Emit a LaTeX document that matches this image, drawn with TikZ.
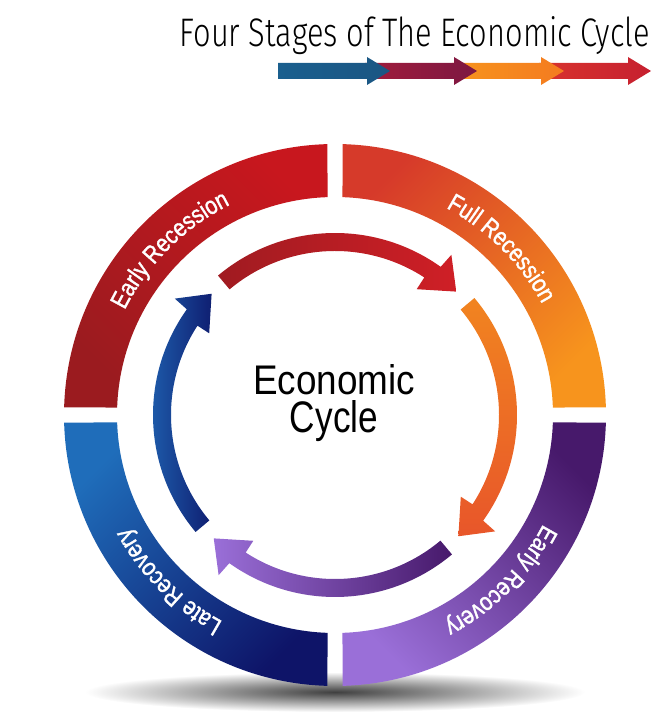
\documentclass[tikz,border=0pt]{standalone}
\usepackage{fontspec}
\setmainfont{Liberation Sans}
\newfontfamily\titlefont{Fira Sans Light}
\newfontfamily\ringfont[FakeStretch=0.84,FakeBold=1.4]{Liberation Sans}
\usetikzlibrary{decorations.text}
\definecolor{recred}{HTML}{C8171E}
\definecolor{recdark}{HTML}{9B1B1F}
\definecolor{fullred}{HTML}{D63A2A}
\definecolor{fullorange}{HTML}{F7941D}
\definecolor{purpledark}{HTML}{47196B}
\definecolor{purplelight}{HTML}{9A6FD8}
\definecolor{lateblue}{HTML}{1F6DBA}
\definecolor{latenavy}{HTML}{0E1468}
\definecolor{arrowdark}{HTML}{A01B21}
\definecolor{arrowred}{HTML}{CF1F26}
\definecolor{arroworange}{HTML}{F7941D}
\definecolor{arrowrust}{HTML}{E8562A}
\definecolor{arrowtop}{HTML}{F18420}
\definecolor{arrowblue}{HTML}{2066B4}
\definecolor{arrownavy}{HTML}{0F1F72}
\definecolor{tblue}{HTML}{1A5F8E}
\definecolor{tblueB}{HTML}{1B5683}
\definecolor{tmag}{HTML}{A01C3C}
\definecolor{tmagB}{HTML}{7D1742}
\definecolor{torange}{HTML}{F7941D}
\definecolor{torangeB}{HTML}{F47B20}
\definecolor{tred}{HTML}{D8332E}
\definecolor{tredB}{HTML}{C6202F}
\tikzset{
  ringlabel/.style={decorate,decoration={text along path,text align=center,
    text color=white,text={|\ringfont\fontsize{25}{25}\selectfont|#1}}},
  cyclearrow/.style={insert path={(#1:182) arc[start angle=#1,end angle=#1-75.5,radius=182pt]
    -- (#1-76:198) -- (#1-84.5:173) -- (#1-73:150) -- (#1-73:164)
    arc[start angle=#1-73,end angle=#1,radius=164pt] -- cycle}}
}
\begin{document}
\begin{tikzpicture}[x=1pt,y=1pt]
  \useasboundingbox (0,0) rectangle (670,726);
  \node[anchor=base east,inner sep=0] (title) at (650,679)
    {\resizebox{470pt}{30pt}{\titlefont Four Stages of The Economic Cycle}};
  \foreach \i/\ca/\cb in {3/tred/tredB,2/torange/torangeB,1/tmag/tmagB,0/tblue/tblueB}
    \shade[left color=\ca,right color=\cb] ({278+87*\i},647) -- ({367+87*\i},647)
      -- ({367+87*\i},641) -- ({390+87*\i},655) -- ({367+87*\i},669)
      -- ({367+87*\i},663) -- ({278+87*\i},663) -- cycle;
  \shade[inner color=black!75,outer color=white] (335,34) ellipse[x radius=250,y radius=20];
  \begin{scope}[shift={(335,311)}]
    \foreach \q/\ca/\cb/\sa in {90/recred/recdark/-45,0/fullred/fullorange/45,
        -90/purpledark/purplelight/-45,-180/lateblue/latenavy/45}
      \shade[top color=\ca,bottom color=\cb,shading angle=\sa]
        (\q+88.41:271) arc[start angle=\q+88.41,end angle=\q+1.59,radius=271pt]
        -- (\q+1.97:218) arc[start angle=\q+1.97,end angle=\q+88.03,radius=218pt] -- cycle;
    \path[ringlabel={Early Recession}] (178:235) arc[start angle=178,end angle=92,radius=235pt];
    \path[ringlabel={Full Recession}] (88:235) arc[start angle=88,end angle=2,radius=235pt];
    \path[ringlabel={Early Recovery}] (-2:235) arc[start angle=-2,end angle=-88,radius=235pt];
    \path[ringlabel={Late Recovery}] (268:235) arc[start angle=268,end angle=182,radius=235pt];
    \shade[left color=arrowdark,right color=arrowred,cyclearrow=130];
    \shade[top color=arrowtop,middle color=arroworange,bottom color=arrowrust,cyclearrow=40];
    \shade[left color=purplelight,right color=purpledark,cyclearrow=-50];
    \shade[left color=arrowblue,right color=arrownavy,cyclearrow=-140];
    \node[anchor=base,inner sep=0] (econ) at (-1,20) {\resizebox{162pt}{30pt}{Economic}};
    \node[anchor=base,inner sep=0] (cycle) at (-1,-18) {\resizebox{88pt}{32pt}{Cycle}};
  \end{scope}
\end{tikzpicture}
\end{document}
